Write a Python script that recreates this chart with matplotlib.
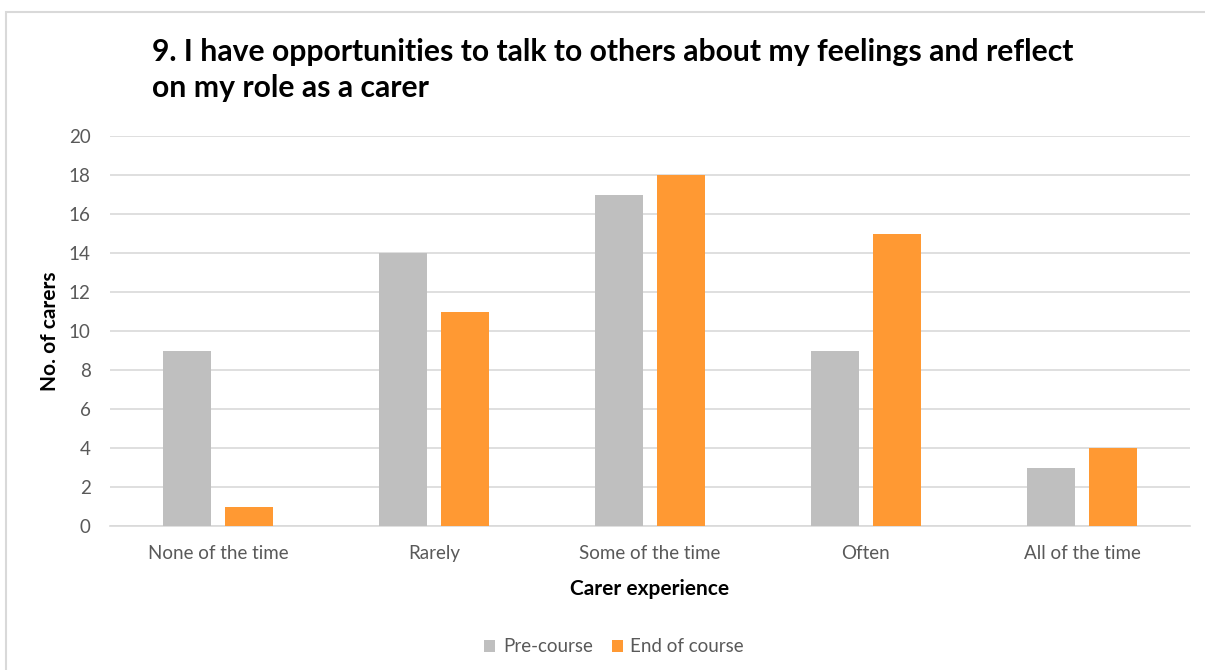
import numpy as np
import matplotlib.pyplot as plt
from matplotlib.patches import Rectangle

CATEGORIES = ['None of the time', 'Rarely', 'Some of the time', 'Often', 'All of the time']
PRE_COURSE = [9, 14, 17, 9, 3]
END_OF_COURSE = [1, 11, 18, 15, 4]
SERIES_NAMES = ['Pre-course', 'End of course']
Y_TICKS = list(range(0, 21, 2))

GREY = '#BFBFBF'
ORANGE = '#FF9933'
TEXT = '#595959'

plt.rcParams['font.family'] = ['Lato', 'DejaVu Sans']

fig = plt.figure(figsize=(12.05, 6.70), dpi=100)
# chart frame (only left/top edges fall inside the canvas)
fig.patches.append(Rectangle((6 / 1205, -0.1), 1.2, (670 - 12) / 670 + 0.1,
                             transform=fig.transFigure, fill=False,
                             edgecolor='#D9D9D9', linewidth=1.5))

ax = fig.add_axes([110 / 1205, 1 - 526 / 670, 1080 / 1205, 390 / 670])
x = np.arange(len(CATEGORIES))
w = 0.222
off = 0.1435
b1 = ax.bar(x - off, PRE_COURSE, w, color=GREY, label=SERIES_NAMES[0], zorder=3)
b2 = ax.bar(x + off, END_OF_COURSE, w, color=ORANGE, label=SERIES_NAMES[1], zorder=3)

ax.set_xlim(-0.5, len(CATEGORIES) - 0.5)
ax.set_ylim(0, 20)
ax.set_yticks(Y_TICKS)
ax.set_xticks(x)
ax.set_xticklabels(CATEGORIES)
ax.grid(axis='y', color='#D9D9D9', linewidth=1.2, zorder=0)
for s in ['top', 'right', 'left']:
    ax.spines[s].set_visible(False)
ax.spines['bottom'].set_color('#D9D9D9')
ax.spines['bottom'].set_linewidth(1.2)
ax.tick_params(axis='both', length=0, colors=TEXT, labelsize=13.5)
ax.tick_params(axis='x', pad=14)
ax.tick_params(axis='y', pad=14)

ax.set_xlabel('Carer experience', fontsize=15, fontweight='bold', color='black', labelpad=12)
ax.set_ylabel('No. of carers', fontsize=15, fontweight='bold', color='black', labelpad=6)

fig.text(152 / 1205, 1 - 70 / 670,
         '9. I have opportunities to talk to others about my feelings and reflect\non my role as a carer',
         fontsize=21.7, fontweight='bold', ha='left', va='center', linespacing=1.38)

fig.legend(handles=[b1, b2], loc='center', bbox_to_anchor=(614 / 1205, 1 - 647 / 670),
           ncol=2, frameon=False, fontsize=13.5, labelcolor=TEXT,
           handlelength=0.6, handleheight=0.6, columnspacing=1.0, handletextpad=0.4)

fig.savefig('out.png', dpi=100)
